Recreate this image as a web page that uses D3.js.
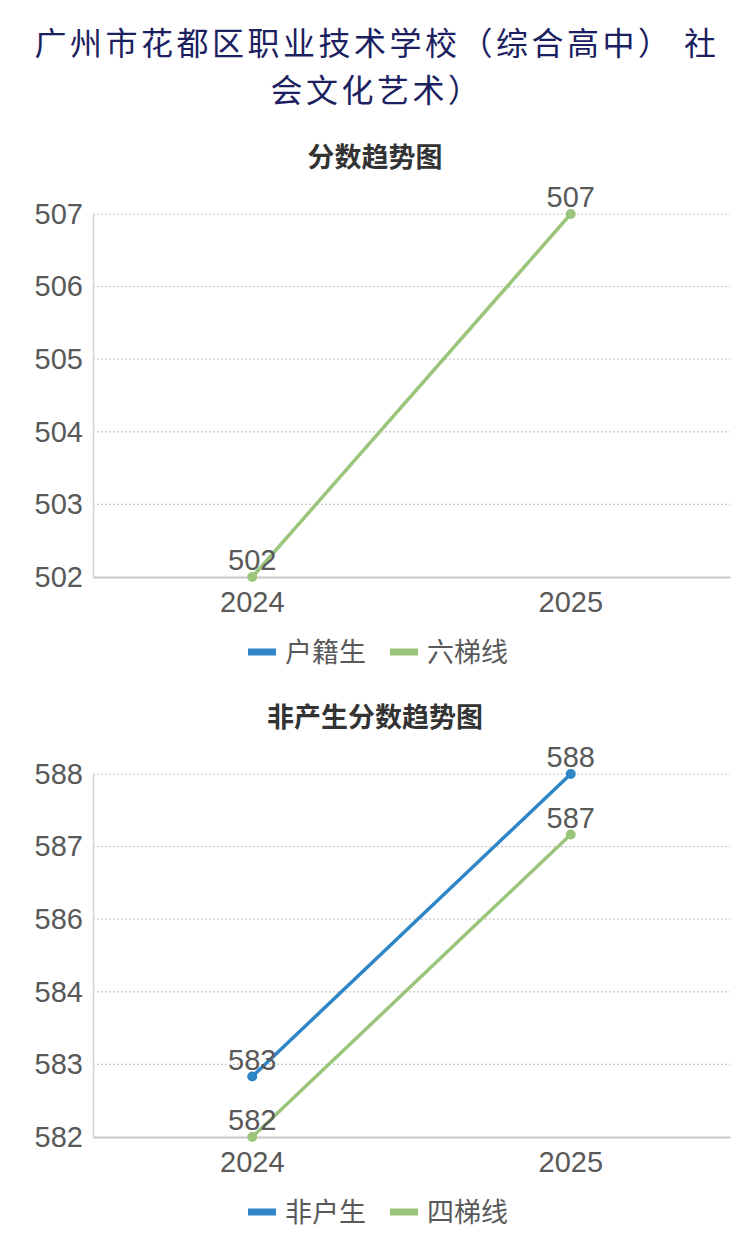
<!DOCTYPE html><meta charset="utf-8">
<html>
<head>
<title>广州市花都区职业技术学校 分数趋势图</title>
<script src="https://cdn.jsdelivr.net/npm/d3@7"></script>
<style>
  body { margin: 0; background: #fff; }
  text { font-family: "Liberation Sans", "Noto Sans CJK SC", sans-serif; }
  .cjk { font-family: "Noto Sans CJK SC", sans-serif; }
</style>
</head>
<body>
<svg id="viz"></svg>
<script>
// data
var years = ["2024", "2025"];

// chart 1: 分数趋势图
var chart1Title = "分数趋势图";
var chart1Series = ["户籍生", "六梯线"];
var chart1Values = [[null, null], [502, 507]];
var chart1Ticks = [502, 503, 504, 505, 506, 507];

// chart 2: 非户生分数趋势图
var chart2Title = "非产生分数趋势图";
var chart2Series = ["非户生", "四梯线"];
var chart2Values = [[583, 588], [582, 587]];
var chart2Ticks = [582, 583.2, 584.4, 585.6, 586.8, 588];

var seriesColors = ["#2f86c6", "#9cc57c"];

var width = 750, height = 1244;
var svg = d3.select("#viz").attr("width", width).attr("height", height);

// page title, two lines
var titleLines = ["广州市花都区职业技术学校（综合高中） 社", "会文化艺术）"];
svg.selectAll("text.title")
    .data(titleLines)
    .enter()
    .append("text")
    .attr("class", "title cjk")
    .attr("x", 377)
    .attr("y", function(d, i) { return 55 + i * 46.5; })
    .attr("text-anchor", "middle")
    .style("font-size", "32px")
    .style("letter-spacing", "3.5px")
    .style("fill", "#1b2160")
    .text(function(d) { return d; });

function drawChart(top, title, seriesNames, values, ticks) {
    var g = svg.append("g");
    var left = 93, right = 730;
    var plotTop = top + 57, plotBottom = top + 420;

    g.append("text")
        .attr("class", "cjk")
        .attr("x", 375)
        .attr("y", top + 10)
        .attr("text-anchor", "middle")
        .style("font-size", "27px")
        .style("font-weight", "bold")
        .style("fill", "#333")
        .text(title);

    var x = d3.scaleBand().domain(years).range([left, right]);
    var y = d3.scaleLinear().domain([ticks[0], ticks[ticks.length - 1]]).range([plotBottom, plotTop]);

    // dotted grid lines
    g.append("g").selectAll("line")
        .data(ticks.slice(1))
        .enter()
        .append("line")
        .attr("x1", left).attr("x2", right)
        .attr("y1", function(d) { return y(d); })
        .attr("y2", function(d) { return y(d); })
        .attr("stroke", "#c8c8c8")
        .attr("stroke-width", 1.2)
        .attr("stroke-dasharray", "2,2");

    // y axis
    var yAxis = g.append("g")
        .attr("transform", "translate(" + left + ",0)")
        .call(d3.axisLeft(y).tickValues(ticks).tickFormat(d3.format(".0f")).tickSize(0).tickPadding(10));
    yAxis.select(".domain").attr("stroke", "#d4d4d4").attr("stroke-width", 1.5);
    yAxis.selectAll("text").style("font-size", "29px").style("fill", "#595959");

    // x axis
    var xAxis = g.append("g")
        .attr("transform", "translate(0," + plotBottom + ")")
        .call(d3.axisBottom(x).tickSize(0).tickPadding(14));
    xAxis.select(".domain").attr("stroke", "#c8c8c8").attr("stroke-width", 2);
    xAxis.selectAll("text").style("font-size", "29px").style("fill", "#595959");

    var line = d3.line()
        .defined(function(d) { return d != null; })
        .x(function(d, i) { return x(years[i]) + x.bandwidth() / 2; })
        .y(function(d) { return y(d); });

    values.forEach(function(vals, s) {
        g.append("path")
            .datum(vals)
            .attr("d", line)
            .attr("fill", "none")
            .attr("stroke", seriesColors[s])
            .attr("stroke-width", 3.5);

        var pts = vals.map(function(v, i) { return {v: v, year: years[i]}; })
            .filter(function(d) { return d.v != null; });

        g.append("g").selectAll("circle")
            .data(pts)
            .enter()
            .append("circle")
            .attr("cx", function(d) { return x(d.year) + x.bandwidth() / 2; })
            .attr("cy", function(d) { return y(d.v); })
            .attr("r", 5)
            .attr("fill", seriesColors[s]);

        g.append("g").selectAll("text")
            .data(pts)
            .enter()
            .append("text")
            .attr("x", function(d) { return x(d.year) + x.bandwidth() / 2; })
            .attr("y", function(d) { return y(d.v) - 7; })
            .attr("text-anchor", "middle")
            .style("font-size", "29px")
            .style("fill", "#595959")
            .text(function(d) { return Math.round(d.v); });
    });

    // legend
    var legendX = [248, 390];
    var legend = g.append("g").selectAll("g")
        .data(seriesNames)
        .enter()
        .append("g")
        .attr("transform", function(d, i) { return "translate(" + legendX[i] + "," + (plotBottom + 75) + ")"; });
    legend.append("rect")
        .attr("x", 0).attr("y", -3.5)
        .attr("width", 28).attr("height", 7)
        .attr("fill", function(d, i) { return seriesColors[i]; });
    legend.append("text")
        .attr("class", "cjk")
        .attr("x", 37)
        .attr("y", 9.5)
        .style("font-size", "27px")
        .style("fill", "#595959")
        .text(function(d) { return d; });
}

drawChart(157, chart1Title, chart1Series, chart1Values, chart1Ticks);
drawChart(717, chart2Title, chart2Series, chart2Values, chart2Ticks);
</script>
</body>
</html>
